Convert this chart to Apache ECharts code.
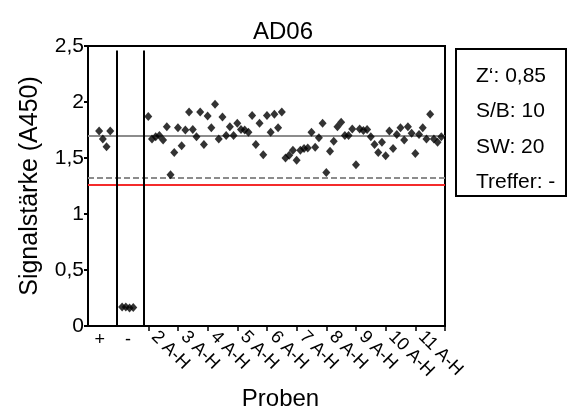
<!DOCTYPE html>
<html>
<head>
<meta charset="utf-8">
<script src="https://cdn.jsdelivr.net/npm/echarts@6/dist/echarts.min.js"></script>
<style>
  html, body { margin: 0; padding: 0; background: #fff; }
  #chart { width: 568px; height: 410px; }
</style>
</head>
<body>
<div id="chart"></div>
<script>
// AD06 - Signalstärke der Proben, Kontrollen + / -
var posCtrl = [1.74, 1.67, 1.60, 1.74];
var negCtrl = [0.17, 0.17, 0.16, 0.165];

var sampleCols = ['2', '3', '4', '5', '6', '7', '8', '9', '10', '11'];
var samples = [
  [1.87, 1.67, 1.69, 1.70, 1.66, 1.78, 1.35, 1.55],   // 2 A-H
  [1.77, 1.61, 1.75, 1.91, 1.755, 1.69, 1.91, 1.62],  // 3 A-H
  [1.875, 1.77, 1.98, 1.67, 1.865, 1.70, 1.78, 1.70], // 4 A-H
  [1.81, 1.755, 1.75, 1.73, 1.88, 1.62, 1.81, 1.53],  // 5 A-H
  [1.88, 1.73, 1.89, 1.77, 1.91, 1.50, 1.525, 1.57],  // 6 A-H
  [1.48, 1.57, 1.585, 1.59, 1.73, 1.595, 1.68, 1.81], // 7 A-H
  [1.37, 1.56, 1.65, 1.78, 1.82, 1.70, 1.70, 1.76],   // 8 A-H
  [1.44, 1.76, 1.745, 1.755, 1.69, 1.62, 1.55, 1.64], // 9 A-H
  [1.52, 1.74, 1.585, 1.71, 1.77, 1.66, 1.78, 1.72],  // 10 A-H
  [1.54, 1.71, 1.77, 1.67, 1.89, 1.67, 1.64, 1.69]    // 11 A-H
];

// Referenzlinien
var posMean = 1.70;
var cutoffGrey = 1.32;
var cutoffRed = 1.26;

var yTicks = ['0', '0,5', '1', '1,5', '2', '2,5'];
var ctrlLabels = ['+', '-'];
var stats = ['Z\u2018: 0,85', 'S/B: 10', 'SW: 20', 'Treffer: -'];

// x-Achse in "Probenplätzen"
var xMax = 96.25;
var posStart = 3, negStart = 9.2;
var separators = [7.8, 15.1];
var sampleStart = 16.25;
var perCol = 8;

var points = [];
posCtrl.forEach(function (v, i) { points.push([posStart + i, v]); });
negCtrl.forEach(function (v, i) { points.push([negStart + i, v]); });
samples.forEach(function (col, c) {
  col.forEach(function (v, i) { points.push([sampleStart + c * perCol + i, v]); });
});

var colTicks = [];
for (var c = 0; c <= sampleCols.length; c++) colTicks.push(sampleStart + c * perCol);
var colLabelPos = sampleCols.map(function (s, c) { return sampleStart + c * perCol + 1.6; });
var ctrlLabelPos = [3.2, 10.8];

var font = 'Liberation Sans, Arial, sans-serif';
var chart = echarts.init(document.getElementById('chart'));

var option = {
  animation: false,
  title: {
    text: 'AD06',
    left: 278,
    top: 15,
    textAlign: 'center',
    textStyle: { fontFamily: font, fontSize: 24, fontWeight: 'normal', color: '#000' }
  },
  grid: {
    left: 88, right: 123, top: 46, bottom: 84,
    outerBoundsMode: 'none',
    show: true, borderColor: '#000', borderWidth: 2
  },
  xAxis: [
    {
      type: 'value', min: 0, max: xMax,
      name: 'Proben', nameLocation: 'middle', nameGap: 52,
      nameTextStyle: { fontFamily: font, fontSize: 24, color: '#000', padding: [0, 0, 0, 28] },
      splitLine: { show: false },
      axisLine: { lineStyle: { color: '#000', width: 2 } },
      axisTick: { customValues: colTicks, length: 5, lineStyle: { color: '#000', width: 1.5 } },
      axisLabel: {
        customValues: colLabelPos, rotate: -45, margin: 8,
        fontFamily: font, fontSize: 18, color: '#000',
        formatter: function (v) {
          var c = Math.round((v - sampleStart - 1.6) / perCol);
          return sampleCols[c] + ' A-H';
        }
      }
    },
    {
      type: 'value', min: 0, max: xMax, position: 'bottom',
      splitLine: { show: false },
      axisLine: { show: false },
      axisTick: { show: false },
      axisLabel: {
        customValues: ctrlLabelPos, margin: 5,
        fontFamily: font, fontSize: 18, color: '#000',
        formatter: function (v) { return v < separators[0] ? ctrlLabels[0] : ctrlLabels[1]; }
      }
    }
  ],
  yAxis: {
    type: 'value', min: 0, max: 2.5, interval: 0.5,
    name: 'Signalstärke (A450)', nameLocation: 'middle', nameGap: 45,
    nameTextStyle: { fontFamily: font, fontSize: 25, color: '#000' },
    splitLine: { show: false },
    axisLine: { lineStyle: { color: '#000', width: 2 } },
    axisTick: { length: 4, lineStyle: { color: '#000', width: 2 } },
    axisLabel: {
      fontFamily: font, fontSize: 21, color: '#000', margin: 4,
      formatter: function (v) { return yTicks[Math.round(v / 0.5)]; }
    }
  },
  series: [
    {
      type: 'line',
      data: [],
      silent: true,
      markLine: {
        silent: true, symbol: 'none', z: 1,
        label: { show: false },
        emphasis: { disabled: true },
        data: [
          { yAxis: posMean, lineStyle: { color: '#8c8c8c', width: 2, type: 'solid' } },
          { yAxis: cutoffGrey, lineStyle: { color: '#8c8c8c', width: 2, type: [6, 3] } },
          { yAxis: cutoffRed, lineStyle: { color: '#f42b2b', width: 2, type: 'solid' } },
          [{ coord: [separators[0], 0] }, { coord: [separators[0], 2.46], lineStyle: { color: '#000', width: 2, type: 'solid' } }],
          [{ coord: [separators[1], 0] }, { coord: [separators[1], 2.46], lineStyle: { color: '#000', width: 2, type: 'solid' } }]
        ]
      }
    },
    {
      type: 'scatter',
      z: 10,
      symbol: 'diamond',
      symbolSize: [8, 9],
      itemStyle: { color: '#000' },
      data: points
    }
  ],
  graphic: [
    {
      type: 'group', left: 455, top: 48,
      children: [
        { type: 'rect', shape: { x: 0, y: 0, width: 110, height: 147 }, style: { fill: '#fff', stroke: '#000', lineWidth: 2 } }
      ].concat(stats.map(function (s, i) {
        return {
          type: 'text', x: 20, y: 27 + i * 35.5,
          style: { text: s, fontFamily: font, fontSize: 21, fill: '#000', verticalAlign: 'middle' }
        };
      }))
    }
  ]
};

chart.setOption(option);
</script>
</body>
</html>
